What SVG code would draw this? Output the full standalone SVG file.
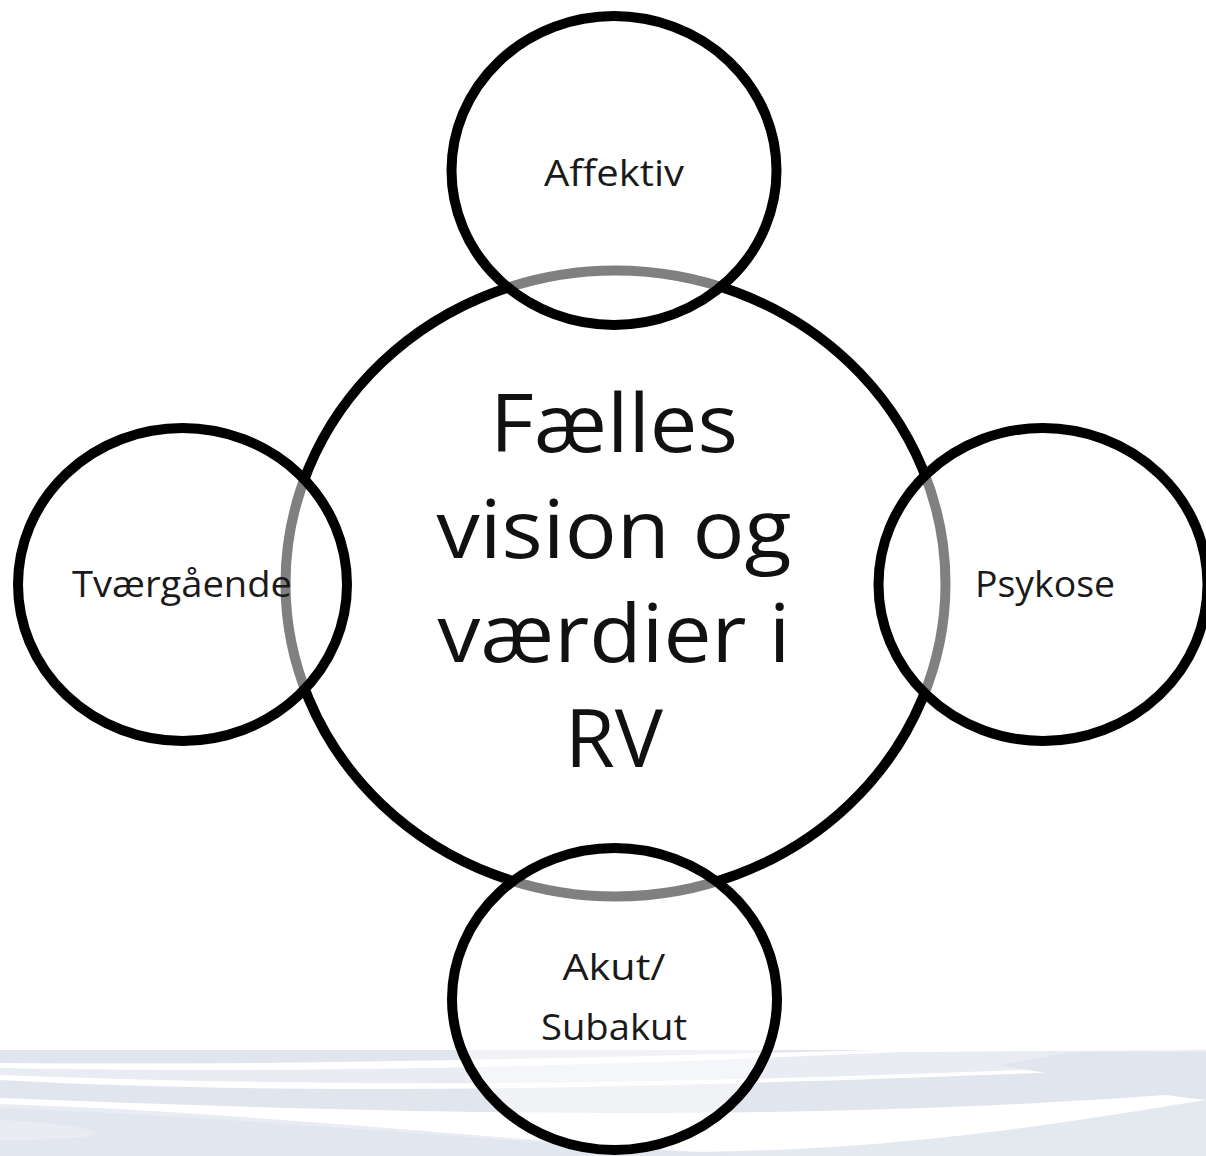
<svg xmlns="http://www.w3.org/2000/svg" width="1206" height="1156" viewBox="0 0 1206 1156">
<style>
.ring{fill:#ffffff;fill-opacity:0.5;stroke:#000;stroke-width:10}
.core{fill:#ffffff;stroke:#000;stroke-width:10}
.lbl{font-family:"Open Sans","Noto Sans","DejaVu Sans",sans-serif;font-size:36px;fill:#1a1a1a;text-anchor:middle}
.big{font-family:"Open Sans","Noto Sans","DejaVu Sans",sans-serif;font-size:80px;fill:#111;text-anchor:middle}
.sw1{fill:#e1e5ed}
.sw2{fill:#e9ecf2}
</style>
<rect width="1206" height="1156" fill="#ffffff"/>
<g id="background">
<path class="sw1" d="M0,1050 H880 C600,1057 300,1066 0,1063 Z"/>
<path class="sw2" d="M0,1068 C300,1074 600,1066 900,1052 L1206,1050 V1062 C800,1080 450,1092 0,1075 Z"/>
<path class="sw1" d="M0,1080 C300,1096 650,1090 1206,1066 V1092 C850,1120 500,1118 0,1098 Z"/>
<path class="sw2" d="M0,1104 C250,1112 500,1140 700,1152 L760,1156 H0 Z"/>
<path class="sw1" d="M0,1108 C250,1118 480,1140 690,1152 C900,1150 1050,1125 1206,1100 V1156 H0 V1140 C150,1140 100,1125 0,1120 Z" opacity="0.9"/>
<path class="sw1" d="M1070,1052 H1206 V1100 C1120,1090 1060,1075 1000,1065 Z"/>
</g>
<g id="center">
<ellipse class="core" cx="615.5" cy="583.5" rx="330" ry="313"/>
<text class="big"><tspan x="614" y="452" textLength="248" lengthAdjust="spacingAndGlyphs">Fælles</tspan><tspan x="614" y="558" textLength="355" lengthAdjust="spacingAndGlyphs">vision og</tspan><tspan x="614" y="662" textLength="353" lengthAdjust="spacingAndGlyphs">værdier i</tspan><tspan x="614" y="767" textLength="98" lengthAdjust="spacingAndGlyphs">RV</tspan></text>
</g>
<g id="affektiv">
<ellipse class="ring" cx="614" cy="170.5" rx="162.5" ry="154.5"/>
<text class="lbl" x="614" y="186" textLength="140" lengthAdjust="spacingAndGlyphs">Affektiv</text>
</g>
<g id="tvaergaende">
<ellipse class="ring" cx="182.5" cy="584.5" rx="164.5" ry="156.5"/>
<text class="lbl" x="182" y="597" textLength="220" lengthAdjust="spacingAndGlyphs">Tværgående</text>
</g>
<g id="psykose">
<ellipse class="ring" cx="1043" cy="584.5" rx="164.5" ry="156.5"/>
<text class="lbl" x="1045" y="597" textLength="140" lengthAdjust="spacingAndGlyphs">Psykose</text>
</g>
<g id="akut">
<ellipse class="ring" cx="614.5" cy="999" rx="162.5" ry="151"/>
<text class="lbl" x="614" y="980" textLength="103" lengthAdjust="spacingAndGlyphs">Akut/</text>
<text class="lbl" x="614" y="1040" textLength="146" lengthAdjust="spacingAndGlyphs">Subakut</text>
</g>
<g id="connectors"/>
</svg>
